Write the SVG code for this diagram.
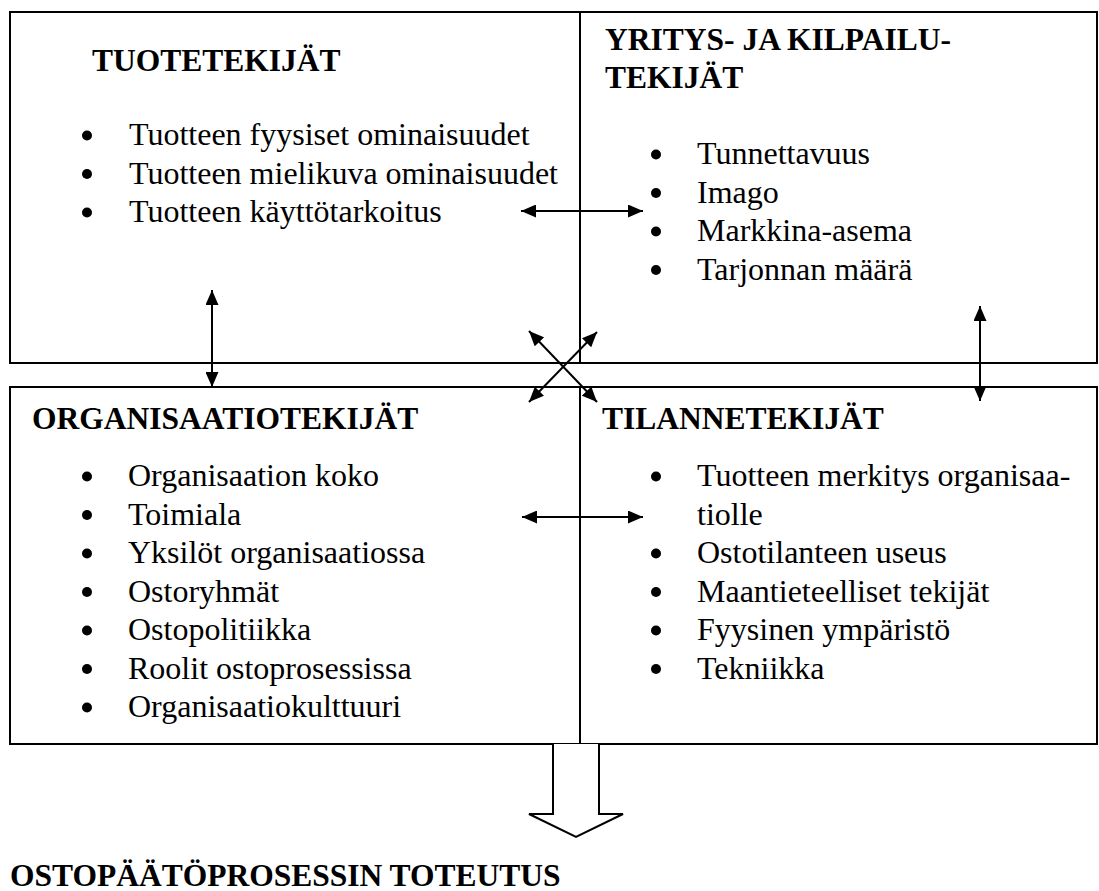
<svg xmlns="http://www.w3.org/2000/svg" width="1099" height="891" viewBox="0 0 1099 891">
<defs>
<marker id="ah" viewBox="0 0 15 13" refX="15" refY="6.5" markerWidth="15" markerHeight="13" markerUnits="userSpaceOnUse" orient="auto-start-reverse">
<path d="M0,0 L15,6.5 L0,13 Z" fill="#000"/>
</marker>
</defs>
<style>
.box{fill:#fff;stroke:#000;stroke-width:2}
.ln{stroke:#000;stroke-width:2}
.h{font-family:"Liberation Serif","Times New Roman",serif;font-weight:bold;font-size:31.5px;fill:#000}
.t{font-family:"Liberation Serif","Times New Roman",serif;font-size:32px;fill:#000}
.b{fill:#000}
.c{fill:none;stroke:#000;stroke-width:2;marker-start:url(#ah);marker-end:url(#ah)}
.blk{fill:#fff;stroke:#000;stroke-width:2;stroke-linejoin:miter}
</style>
<rect width="1099" height="891" fill="#fff"/>
<g id="frame">
<rect class="box" x="10" y="12" width="1087" height="351"/>
<line class="ln" x1="580" y1="12" x2="580" y2="363"/>
<rect class="box" x="10" y="387" width="1087" height="357"/>
<line class="ln" x1="580" y1="387" x2="580" y2="744"/>
</g>
<g id="tuotetekijat">
<text class="h" x="92" y="70.5">TUOTETEKIJÄT</text>
<circle class="b" cx="87" cy="135.5" r="5"/><text class="t" x="129" y="145">Tuotteen fyysiset ominaisuudet</text>
<circle class="b" cx="87" cy="174" r="5"/><text class="t" x="129" y="183.5">Tuotteen mielikuva ominaisuudet</text>
<circle class="b" cx="87" cy="212.5" r="5"/><text class="t" x="129" y="222">Tuotteen käyttötarkoitus</text>
</g>
<g id="yritys">
<text class="h" x="605" y="50">YRITYS- JA KILPAILU-</text>
<text class="h" x="605" y="87.5">TEKIJÄT</text>
<circle class="b" cx="656" cy="154.5" r="5"/><text class="t" x="697" y="164">Tunnettavuus</text>
<circle class="b" cx="656" cy="193" r="5"/><text class="t" x="697" y="202.5">Imago</text>
<circle class="b" cx="656" cy="231.5" r="5"/><text class="t" x="697" y="241">Markkina-asema</text>
<circle class="b" cx="656" cy="270" r="5"/><text class="t" x="697" y="279.5">Tarjonnan määrä</text>
</g>
<g id="organisaatio">
<text class="h" x="32" y="429">ORGANISAATIOTEKIJÄT</text>
<circle class="b" cx="87" cy="476.5" r="5"/><text class="t" x="128" y="486">Organisaation koko</text>
<circle class="b" cx="87" cy="515" r="5"/><text class="t" x="128" y="524.5">Toimiala</text>
<circle class="b" cx="87" cy="553.5" r="5"/><text class="t" x="128" y="563">Yksilöt organisaatiossa</text>
<circle class="b" cx="87" cy="592" r="5"/><text class="t" x="128" y="601.5">Ostoryhmät</text>
<circle class="b" cx="87" cy="630.5" r="5"/><text class="t" x="128" y="640">Ostopolitiikka</text>
<circle class="b" cx="87" cy="669" r="5"/><text class="t" x="128" y="678.5">Roolit ostoprosessissa</text>
<circle class="b" cx="87" cy="707.5" r="5"/><text class="t" x="128" y="717">Organisaatiokulttuuri</text>
</g>
<g id="tilanne">
<text class="h" x="602" y="429">TILANNETEKIJÄT</text>
<circle class="b" cx="656" cy="476.5" r="5"/><text class="t" x="697" y="486">Tuotteen merkitys organisaa-</text>
<text class="t" x="697" y="524.5">tiolle</text>
<circle class="b" cx="656" cy="553.5" r="5"/><text class="t" x="697" y="563">Ostotilanteen useus</text>
<circle class="b" cx="656" cy="592" r="5"/><text class="t" x="697" y="601.5">Maantieteelliset tekijät</text>
<circle class="b" cx="656" cy="630.5" r="5"/><text class="t" x="697" y="640">Fyysinen ympäristö</text>
<circle class="b" cx="656" cy="669" r="5"/><text class="t" x="697" y="678.5">Tekniikka</text>
</g>
<g id="connectors">
<line class="c" x1="521" y1="211" x2="643" y2="211"/>
<line class="c" x1="212" y1="290" x2="212" y2="387"/>
<line class="c" x1="980" y1="306" x2="980" y2="401"/>
<line class="c" x1="522" y1="517" x2="643" y2="517"/>
<line class="c" x1="529" y1="331" x2="597" y2="402"/>
<line class="c" x1="597" y1="332" x2="529" y2="402"/>
</g>
<g id="result">
<path class="blk" d="M553,744 L553,814 L529,814 L576,837 L623,814 L599,814 L599,744"/>
<text class="h" x="10" y="886">OSTOPÄÄTÖPROSESSIN TOTEUTUS</text>
</g>
</svg>
